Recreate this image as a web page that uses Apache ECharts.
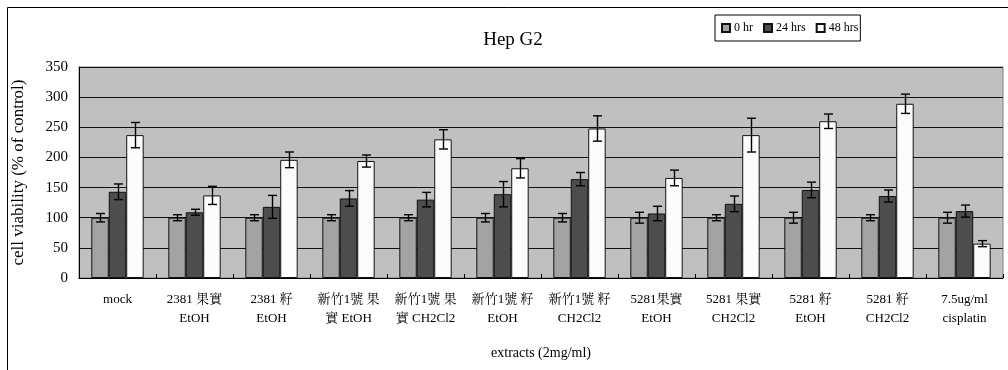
<!DOCTYPE html>
<html>
<head>
<meta charset="utf-8">
<script src="https://cdn.jsdelivr.net/npm/echarts@6/dist/echarts.min.js"></script>
<style>
  html, body { margin: 0; padding: 0; background: #fff; }
  #chart { width: 1008px; height: 370px; }
</style>
</head>
<body>
<div id="chart"></div>
<script>
// Extracts tested on Hep G2 cells
const categories = [
  'mock', '2381 果實\nEtOH', '2381 籽\nEtOH', '新竹1號 果\n實 EtOH', '新竹1號 果\n實 CH2Cl2',
  '新竹1號 籽\nEtOH', '新竹1號 籽\nCH2Cl2', '5281果實\nEtOH', '5281 果實\nCH2Cl2',
  '5281 籽\nEtOH', '5281 籽\nCH2Cl2', '7.5ug/ml\ncisplatin'
];
const seriesNames = ['0 hr', '24 hrs', '48 hrs'];

// mean cell viability (% of control) and standard deviation
const hr0      = [100, 100, 100, 100, 100, 100, 100, 100, 100, 100, 100, 100];
const hr0Err   = [7, 5, 5, 5, 5, 7, 7, 9, 5, 9, 5, 9];
const hr24     = [143, 109, 118, 132, 130, 139, 164, 107, 123, 146, 136, 111];
const hr24Err  = [13, 5, 19, 13, 12, 21, 11, 12, 13, 13, 10, 10];
const hr48     = [237, 137, 196, 194, 230, 182, 248, 166, 237, 260, 289, 57];
const hr48Err  = [21, 15, 13, 10, 16, 16, 21, 13, 28, 12, 16, 5];

const yTicks = [0, 50, 100, 150, 200, 250, 300, 350];

const means = [hr0, hr24, hr48];
const errs = [hr0Err, hr24Err, hr48Err];
const colors = ['#a3a3a3', '#4d4d4d', '#fcfcfc'];
const FONT = "'Liberation Serif', 'Noto Serif CJK TC', 'Noto Sans CJK TC', serif";
const CAT_GAP = 0.32;

const errData = [];
means.forEach((m, s) => {
  m.forEach((v, i) => errData.push([i, v - errs[s][i], v + errs[s][i], s]));
});

const chart = echarts.init(document.getElementById('chart'), null, { renderer: 'canvas' });

const barSeries = seriesNames.map((name, s) => ({
  name: name,
  type: 'bar',
  data: means[s],
  barGap: '0%',
  barCategoryGap: (CAT_GAP * 100) + '%',
  itemStyle: { color: colors[s], borderColor: '#111', borderWidth: 1 },
  emphasis: { disabled: true },
  z: 2
}));

const errorSeries = {
  type: 'custom',
  data: errData,
  encode: { x: 0, y: [1, 2] },
  z: 5,
  silent: true,
  renderItem: function (params, api) {
    const cat = api.value(0);
    const s = api.value(3);
    const band = api.size([1, 0])[0];
    const barW = band * (1 - CAT_GAP) / 3;
    const lo = api.coord([cat, api.value(1)]);
    const hi = api.coord([cat, api.value(2)]);
    const x = Math.round(lo[0] + (s - 1) * barW) + 0.5;
    const cap = 4.5;
    const style = { stroke: '#000', lineWidth: 1.4, fill: null };
    return {
      type: 'group',
      children: [
        { type: 'line', shape: { x1: x, y1: lo[1], x2: x, y2: hi[1] }, style: style },
        { type: 'line', shape: { x1: x - cap, y1: lo[1], x2: x + cap, y2: lo[1] }, style: style },
        { type: 'line', shape: { x1: x - cap, y1: hi[1], x2: x + cap, y2: hi[1] }, style: style }
      ]
    };
  }
};

chart.setOption({
  animation: false,
  backgroundColor: '#fff',
  textStyle: { fontFamily: FONT, color: '#000' },
  title: {
    text: 'Hep G2',
    left: 508,
    top: 26,
    textAlign: 'center',
    textStyle: { fontFamily: FONT, fontSize: 19, fontWeight: 'normal', color: '#000' }
  },
  legend: {
    data: seriesNames,
    left: 715,
    top: 15,
    orient: 'horizontal',
    icon: 'rect',
    itemWidth: 8,
    itemHeight: 8,
    itemGap: 10,
    padding: [7, 2, 7, 6],
    borderColor: '#000',
    borderWidth: 1,
    backgroundColor: '#fff',
    selectedMode: false,
    textStyle: { fontFamily: FONT, fontSize: 12, color: '#000', padding: [0, 0, 0, -1] }
  },
  grid: {
    left: 79,
    top: 67,
    width: 924,
    height: 211,
    show: true,
    backgroundColor: '#c0c0c0',
    borderColor: '#808080',
    borderWidth: 1
  },
  xAxis: {
    type: 'category',
    data: categories,
    name: 'extracts (2mg/ml)',
    nameLocation: 'middle',
    nameGap: 68,
    nameTextStyle: { fontFamily: FONT, fontSize: 14, color: '#000' },
    axisLine: { show: true, lineStyle: { color: '#000', width: 1 } },
    axisTick: { show: true, inside: true, length: 4, lineStyle: { color: '#000' } },
    axisLabel: {
      interval: 0,
      margin: 12,
      fontFamily: FONT,
      fontSize: 13,
      lineHeight: 19,
      color: '#000'
    },
    splitLine: { show: false }
  },
  yAxis: {
    type: 'value',
    min: yTicks[0],
    max: yTicks[yTicks.length - 1],
    interval: yTicks[1] - yTicks[0],
    name: 'cell viability (% of control)',
    nameLocation: 'middle',
    nameGap: 52,
    nameTextStyle: { fontFamily: FONT, fontSize: 17, color: '#000' },
    axisLine: { show: true, lineStyle: { color: '#000', width: 1 } },
    axisTick: { show: false },
    axisLabel: { margin: 11, fontFamily: FONT, fontSize: 15, color: '#000' },
    splitLine: { show: true, lineStyle: { color: '#111', width: 1 } }
  },
  graphic: [{
    type: 'rect',
    silent: true,
    z: 100,
    shape: { x: 7.5, y: 7.5, width: 1020, height: 400 },
    style: { fill: null, stroke: '#000', lineWidth: 1 }
  }],
  series: barSeries.concat([errorSeries])
});
</script>
</body>
</html>
